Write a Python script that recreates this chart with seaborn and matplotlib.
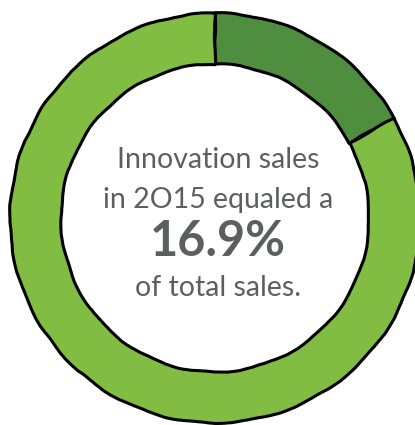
import matplotlib
matplotlib.use("Agg")
import matplotlib.pyplot as plt
import seaborn as sns

# Share of total sales in 2015
segments = ["Innovation sales", "Other sales"]
shares = [16.9, 83.1]
colors = ["#4f8d3f", "#80bd42"]

headline = "16.9%"
lines_above = ["Innovation sales", "in 2O15 equaled a"]
line_below = "of total sales."

sns.set_theme(style="white")
plt.rcParams["font.family"] = ["Lato", "DejaVu Sans"]

fig = plt.figure(figsize=(4.15, 4.25), dpi=100)
ax = fig.add_axes([0, 0, 1, 1])

center = (215, 207)
wedges, _ = ax.pie(
    shares,
    colors=colors,
    startangle=90,
    counterclock=False,
    radius=205,
    center=center,
    frame=True,
    wedgeprops=dict(width=51, edgecolor="black", linewidth=2.2),
)
for w in wedges:
    w.set_sketch_params(scale=0.6, length=80, randomness=4)
ax.set_xlim(0, 415)
ax.set_ylim(0, 425)
ax.set_aspect("equal")
ax.axis("off")

gray = "#5d5e61"
body = dict(ha="center", va="center", fontsize=20.5, color=gray, fontweight="normal")
ax.text(218, 265, lines_above[0], **body)
ax.text(218, 225, lines_above[1], **body)
ax.text(218, 183, headline, ha="center", va="center", fontsize=35, color=gray, fontweight="bold")
ax.text(218, 137, line_below, **body)

fig.savefig("out.png", dpi=100)
